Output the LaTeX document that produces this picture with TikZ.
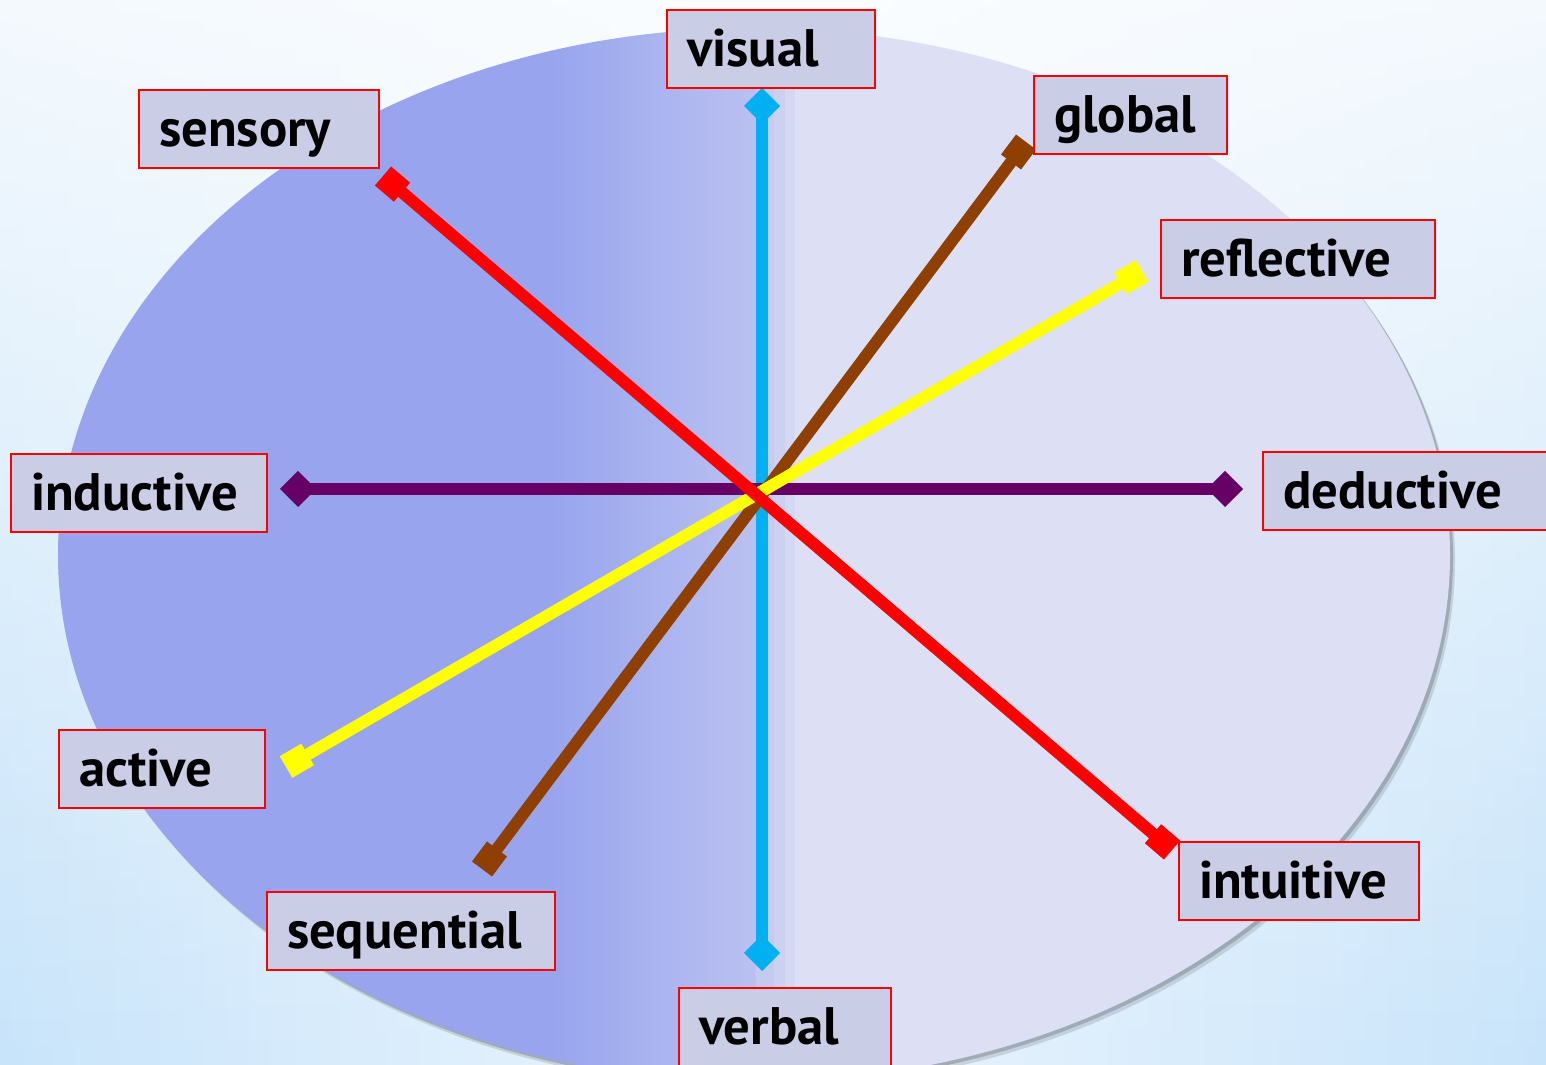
\documentclass[tikz,border=0pt]{standalone}
\usepackage{fontspec}
\setsansfont{PT Sans}
\usepackage{tikz}
\usetikzlibrary{arrows.meta,positioning,fadings}
\definecolor{bgside}{RGB}{200,228,250}
\definecolor{bgmid}{RGB}{236,245,253}
\definecolor{eldark}{RGB}{152,165,238}
\definecolor{elmid}{RGB}{186,193,241}
\definecolor{elbanda}{RGB}{197,202,240}
\definecolor{elbandb}{RGB}{205,209,241}
\definecolor{elbandc}{RGB}{213,216,243}
\definecolor{ellight}{RGB}{221,224,245}
\definecolor{lbox}{RGB}{201,205,230}
\definecolor{lred}{RGB}{255,0,0}
\definecolor{lcyan}{RGB}{0,176,240}
\definecolor{lpurple}{RGB}{102,0,102}
\definecolor{lbrown}{RGB}{143,63,0}
\definecolor{lyellow}{RGB}{255,255,0}
\tikzset{
  lbl/.style={rectangle,draw=lred,line width=0.2mm,fill=lbox,anchor=north west,
              inner xsep=2mm,inner ysep=0pt,minimum height=7.8mm,
              text height=4.3mm,text depth=0.9mm,align=left,
              font=\sffamily\bfseries\fontsize{15}{18}\selectfont},
  diam/.style={line width=1.2mm,
               {Diamond[length=3.6mm,width=3.6mm]}-{Diamond[length=3.6mm,width=3.6mm]}},
  sq/.style={line width=1.2mm,
             {Square[length=2.5mm,width=2.5mm]}-{Square[length=2.5mm,width=2.5mm]}},
}

\begin{document}
\begin{tikzpicture}[x=0.01cm,y=-0.01cm]
  \useasboundingbox (0,0) rectangle (1546,1065);
  % sky background
  \shade[left color=bgside,right color=bgside,middle color=bgmid] (0,0) rectangle (1546,1065);
  \fill[white,opacity=.8,path fading=south] (0,0) rectangle (1546,1065);
  % oval with soft shadow
  \fill[black,opacity=.12] (759,561) ellipse [x radius=696,y radius=527];
  \fill[black,opacity=.18] (757,558) ellipse [x radius=696,y radius=527];
  \begin{scope}
    \clip (754,555) ellipse [x radius=696,y radius=527];
    \fill[eldark] (0,0) rectangle (552,1100);
    \shade[left color=eldark,right color=elmid] (550,0) rectangle (757,1100);
    \fill[elbanda] (756,0) rectangle (775,1100);
    \fill[elbandb] (774,0) rectangle (786,1100);
    \fill[elbandc] (785,0) rectangle (796,1100);
    \fill[ellight] (795,0) rectangle (1546,1100);
  \end{scope}
  % line ends
  \coordinate (vtop) at (762,88);
  \coordinate (vbot) at (762,971);
  \coordinate (hleft) at (280,489);
  \coordinate (hright) at (1243,489);
  \coordinate (sens) at (383,176);
  \coordinate (intu) at (1172,850);
  \coordinate (glob) at (1026,142);
  \coordinate (sequ) at (482,869);
  \coordinate (refl) at (1142,271);
  \coordinate (acti) at (286,767);
  % the five scales
  \draw[diam,lcyan] (vtop) -- (vbot);
  \draw[diam,lpurple] (hleft) -- (hright);
  \draw[sq,lbrown] (glob) -- (sequ);
  \draw[sq,lyellow] (refl) -- (acti);
  \draw[sq,lred] (sens) -- (intu);
  % labels
  \node[lbl,text width=16.8mm] (visual) at (666,9) {visual};
  \node[lbl,text width=20mm] (sensory) at (138,89) {sensory};
  \node[lbl,text width=15.3mm] (global) at (1033,75) {global};
  \node[lbl,text width=23.4mm] (reflective) at (1160,219) {reflective};
  \node[lbl,text width=21.6mm] (inductive) at (10,453) {inductive};
  \node[lbl,text width=24.6mm] (deductive) at (1262,451) {deductive};
  \node[lbl,text width=16.6mm] (active) at (58,729) {active};
  \node[lbl,text width=24.8mm] (sequential) at (266,891) {sequential};
  \node[lbl,text width=20mm] (intuitive) at (1178,841) {intuitive};
  \node[lbl,text width=17.2mm] (verbal) at (678,987) {verbal};
\end{tikzpicture}
\end{document}
